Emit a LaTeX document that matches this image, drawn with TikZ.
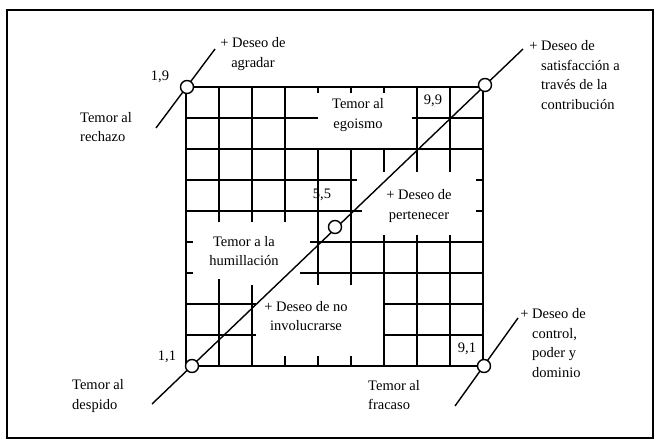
\documentclass[tikz,border=0pt]{standalone}
\usepackage{fontspec}
\setmainfont{Liberation Serif}
\begin{document}
\begin{tikzpicture}[x=1pt,y=-1pt,
  gl/.style={line width=1.4pt},
  lbl/.style={font=\fontsize{14.5}{19.5}\selectfont, inner sep=0pt},
  pt/.style={circle, draw, fill=white, line width=1.4pt, minimum size=13pt, inner sep=0pt}]
\useasboundingbox (0,0) rectangle (660,446);
\draw[line width=1.3pt] (7,10) rectangle (653,438);
% grid
\draw[gl] (186,87) rectangle (483,366);
\foreach \x/\a/\b in {219/87/222, 219/279/366, 252/87/222, 252/285/366, 285/87/222, 285/356/366,
  318/87/93, 318/149/285, 318/356/366, 351/87/93, 351/149/285, 351/356/366,
  384/87/93, 384/149/172, 384/235/366, 417/87/172, 417/235/366, 450/87/172, 450/235/366}
  \draw[gl] (\x,\a) -- (\x,\b);
\foreach \y/\a/\b in {118/186/318, 118/412/483, 149/186/483, 180/186/357, 180/476/483,
  211/186/362, 211/476/483, 242/186/193, 242/310/483, 273/186/193, 273/300/483,
  304/186/256, 304/384/483, 335/186/256, 335/384/483}
  \draw[gl] (\a,\y) -- (\b,\y);
% diagonal end points
\coordinate (dlo) at (152,404);
\coordinate (dhi) at (523,49);
\coordinate (alo) at (156,128);
\coordinate (ahi) at (215,49);
\coordinate (blo) at (455,406);
\coordinate (bhi) at (518,318);
\draw[gl] (dlo) -- (dhi);
\draw[gl] (alo) -- (ahi);
\draw[gl] (blo) -- (bhi);
% points
\node[pt] (p11) at (192,366) {};
\node[pt] (p55) at (335,227) {};
\node[pt] (p99) at (485,85) {};
\node[pt] (p19) at (187,87) {};
\node[pt] (p91) at (484,366) {};
% coordinate labels
\node[lbl] (l19) at (160,77) {1,9};
\node[lbl] (l99) at (433,101) {9,9};
\node[lbl] (l55) at (322,195) {5,5};
\node[lbl] (l11) at (167,357) {1,1};
\node[lbl] (l91) at (467,349) {9,1};
% outer labels
\node[lbl, align=center] (agr) at (253,54) {+ Deseo de\\agradar};
\node[lbl, align=left, anchor=west] (sat) at (541,75) {\llap{+ }Deseo de\\satisfacción a\\través de la\\contribución};
\node[lbl, align=left, anchor=west] (ctl) at (532,343) {\llap{+ }Deseo de\\control,\\poder y\\dominio};
\node[lbl, align=left, anchor=west] (rech) at (80,127) {Temor al\\rechazo};
\node[lbl, align=left, anchor=west] (desp) at (72,396) {Temor al\\despido};
\node[lbl, align=left, anchor=west] (frac) at (368,395) {Temor al\\fracaso};
% inner labels
\node[lbl, align=center] (ego) at (358,115) {Temor al\\egoismo};
\node[lbl, align=center] (pert) at (419,206) {+ Deseo de\\pertenecer};
\node[lbl, align=center] (hum) at (244,251) {Temor a la\\humillación};
\node[lbl, align=center] (inv) at (306,316) {+ Deseo de no\\involucrarse};
\end{tikzpicture}
\end{document}
